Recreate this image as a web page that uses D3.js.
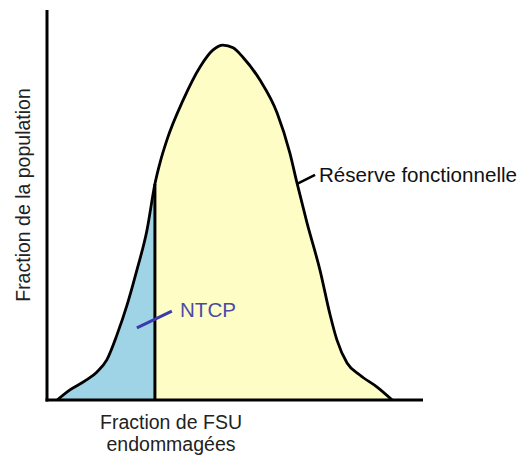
<!DOCTYPE html>
<html><head><meta charset="utf-8">
<script src="https://cdn.jsdelivr.net/npm/d3@7"></script>
<style>body{margin:0;background:#fff}svg{display:block}text{font-family:"Liberation Sans",Arial,sans-serif}</style>
</head><body>
<script>
// Fraction of damaged FSU (x, %) vs fraction of population (y, %)
const fsuFraction = [2.7,6.1,10.1,13.3,15.9,18.6,21.3,23.9,26.6,28.7,30.1,31.9,36.2,40.7,44.1,46.8,49.5,52.1,56.6,61.2,64.6,66.5,69.1,72.6,75.3,77.1,79.8,83.2,87.8,91.8];
const populationFraction = [0,2.6,4.9,7.2,10.3,16.7,24.4,33.3,43.6,55.4,61.0,66.7,76.9,85.4,89.7,91.0,90.3,87.9,82.1,73.6,63.3,55.6,45.6,33.3,21.8,15.4,9.5,6.4,3.3,0];
const ntcpThreshold = 28.7;   // index 9
const labels = {y:"Fraction de la population", x1:"Fraction de FSU", x2:"endommagées", ntcp:"NTCP", reserve:"Réserve fonctionnelle"};

const W=519,H=457;
const svg=d3.select("body").append("svg").attr("width",W).attr("height",H);
const x=d3.scaleLinear().domain([0,100]).range([47,423]);
const y=d3.scaleLinear().domain([0,100]).range([400,10]);
const pts=fsuFraction.map((v,i)=>[v,populationFraction[i]]);

const area=d3.area().x(d=>x(d[0])).y0(y(0)).y1(d=>y(d[1])).curve(d3.curveMonotoneX);
const line=d3.line().x(d=>x(d[0])).y(d=>y(d[1])).curve(d3.curveMonotoneX);

svg.append("clipPath").attr("id","left").append("rect")
  .attr("x",0).attr("y",0).attr("width",x(ntcpThreshold)).attr("height",H);
svg.append("clipPath").attr("id","right").append("rect")
  .attr("x",x(ntcpThreshold)).attr("y",0).attr("width",W).attr("height",H);

svg.append("path").datum(pts).attr("d",area).attr("fill","#fffdc6").attr("clip-path","url(#right)");
svg.append("path").datum(pts).attr("d",area).attr("fill","#9ed4e6").attr("clip-path","url(#left)");

const thrY=populationFraction[fsuFraction.indexOf(ntcpThreshold)];
svg.append("line").attr("x1",x(ntcpThreshold)).attr("x2",x(ntcpThreshold))
  .attr("y1",y(0)).attr("y2",y(thrY)).attr("stroke","#000").attr("stroke-width",3);

svg.append("path").datum(pts).attr("d",line).attr("fill","none").attr("stroke","#000")
  .attr("stroke-width",2.8).attr("stroke-linejoin","round");

// axes
svg.append("line").attr("x1",x(0)).attr("x2",x(0)).attr("y1",y(100)).attr("y2",y(0)+1.5).attr("stroke","#000").attr("stroke-width",3);
svg.append("line").attr("x1",x(0)-1.5).attr("x2",x(100)).attr("y1",y(0)).attr("y2",y(0)).attr("stroke","#000").attr("stroke-width",3);

// annotations
svg.append("line").attr("x1",x(23.9)).attr("y1",y(18.5)).attr("x2",x(33.2)).attr("y2",y(22.8))
  .attr("stroke","#3b3bae").attr("stroke-width",3);
svg.append("text").attr("x",180).attr("y",317).attr("fill","#4a4aa6").attr("font-size",20)
  .attr("textLength",56).attr("lengthAdjust","spacingAndGlyphs").text(labels.ntcp);
svg.append("line").attr("x1",x(66.5)).attr("y1",y(55.4)).attr("x2",x(71.3)).attr("y2",y(57.7))
  .attr("stroke","#000").attr("stroke-width",2.5);
svg.append("text").attr("x",319).attr("y",182).attr("fill","#111").attr("font-size",20)
  .attr("textLength",198).attr("lengthAdjust","spacingAndGlyphs").text(labels.reserve);

svg.append("text").attr("transform","translate(30,195) rotate(-90)").attr("text-anchor","middle")
  .attr("font-size",19.5).attr("fill","#222").text(labels.y);
svg.append("text").attr("x",171).attr("y",429).attr("text-anchor","middle").attr("font-size",19.5).attr("fill","#222").text(labels.x1);
svg.append("text").attr("x",171).attr("y",451).attr("text-anchor","middle").attr("font-size",19.5).attr("fill","#222").text(labels.x2);
</script>
</body></html>
